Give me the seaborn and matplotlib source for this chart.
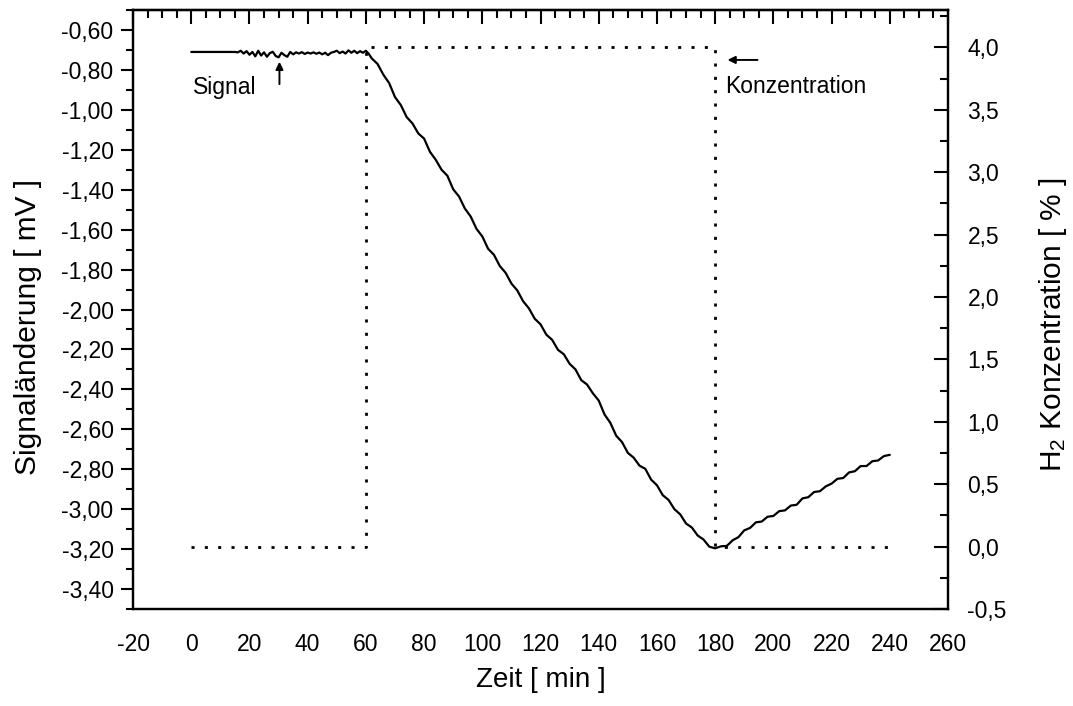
import numpy as np
import pandas as pd
import matplotlib
matplotlib.use('Agg')
import matplotlib.pyplot as plt
from matplotlib.ticker import MultipleLocator, FuncFormatter
import seaborn as sns

# signal readings [mV] vs time [min]
zeit_flat = [0, 5, 10, 15]
signal_flat = [-0.710, -0.710, -0.710, -0.710]

zeit_noise = list(range(16, 63))
signal_noise = [-0.712, -0.704, -0.718, -0.706, -0.724, -0.710, -0.732, -0.704, -0.728,
                -0.712, -0.734, -0.716, -0.709, -0.730, -0.737, -0.714, -0.726, -0.734,
                -0.710, -0.722, -0.712, -0.718, -0.711, -0.720, -0.713, -0.718, -0.712,
                -0.719, -0.713, -0.722, -0.714, -0.726, -0.714, -0.710, -0.704, -0.716,
                -0.708, -0.718, -0.702, -0.714, -0.704, -0.716, -0.706, -0.714, -0.704,
                -0.720, -0.742]

zeit_slope = list(range(64, 241, 2))
signal_slope = [-0.770, -0.824, -0.866, -0.936, -0.976, -1.036, -1.068, -1.118, -1.144,
                -1.210, -1.250, -1.300, -1.330, -1.398, -1.434, -1.494, -1.534, -1.596,
                -1.634, -1.696, -1.726, -1.782, -1.816, -1.870, -1.904, -1.958, -1.994,
                -2.046, -2.074, -2.126, -2.152, -2.202, -2.224, -2.272, -2.300, -2.354,
                -2.376, -2.420, -2.456, -2.526, -2.568, -2.632, -2.664, -2.718, -2.742,
                -2.782, -2.798, -2.852, -2.880, -2.930, -2.954, -3.000, -3.026, -3.072,
                -3.092, -3.132, -3.152, -3.188, -3.196, -3.186, -3.184, -3.156, -3.140,
                -3.106, -3.094, -3.066, -3.062, -3.038, -3.034, -3.010, -3.006, -2.982,
                -2.978, -2.946, -2.940, -2.914, -2.910, -2.886, -2.872, -2.848, -2.844,
                -2.816, -2.810, -2.784, -2.784, -2.760, -2.756, -2.734, -2.728]

# H2 concentration [%]
zeit_konz = [0, 60, 60, 180, 180, 240]
konz = [0, 0, 4, 4, 0, 0]

if __name__ == '__main__':
    sns.set_style('white')
    plt.rcParams['font.family'] = ['Liberation Sans', 'DejaVu Sans']
    plt.rcParams['mathtext.fontset'] = 'custom'
    plt.rcParams['mathtext.rm'] = 'Liberation Sans'
    plt.rcParams['mathtext.it'] = 'Liberation Sans'
    plt.rcParams['text.color'] = 'black'
    plt.rcParams['axes.labelcolor'] = 'black'
    plt.rcParams['xtick.color'] = 'black'
    plt.rcParams['ytick.color'] = 'black'

    sig = pd.DataFrame({'Zeit': zeit_flat + zeit_noise + zeit_slope,
                        'Signal': signal_flat + signal_noise + signal_slope})
    kz = pd.DataFrame({'Zeit': zeit_konz, 'Konz': konz})

    fig = plt.figure(figsize=(10.73, 7.06), dpi=100)
    ax = fig.add_axes([0.124, 0.1374, 0.7595, 0.8484])
    ax2 = ax.twinx()

    sns.lineplot(data=sig, x='Zeit', y='Signal', ax=ax, color='black', lw=1.6,
                 estimator=None, sort=False)
    sns.lineplot(data=kz, x='Zeit', y='Konz', ax=ax2, color='black', lw=2.0,
                 estimator=None, sort=False, linestyle=(0, (1.1, 3.7)))

    ax.set_xlim(-20, 260)
    ax.set_ylim(-3.5, -0.5)
    ax2.set_ylim(-0.5, 4.3)

    ax.set_xlabel('Zeit [ min ]', fontsize=20, labelpad=8)
    ax.set_ylabel('Signaländerung [ mV ]', fontsize=21.5, labelpad=14)
    ax2.set_ylabel(r'H$_\mathregular{2}$ Konzentration [ % ]', fontsize=21.5, labelpad=22)
    ax.yaxis.label.set_y(0.47)
    ax2.yaxis.label.set_y(0.475)

    ax.xaxis.set_major_locator(MultipleLocator(20))
    ax.xaxis.set_minor_locator(MultipleLocator(5))
    ax.yaxis.set_minor_locator(MultipleLocator(0.1))
    ax.set_yticks(np.arange(-3.4, -0.59, 0.2))
    ax2.yaxis.set_major_locator(MultipleLocator(0.5))
    ax2.yaxis.set_minor_locator(MultipleLocator(0.25))

    ax.xaxis.set_major_formatter(FuncFormatter(lambda v, p: f'{v:.0f}'))
    ax.yaxis.set_major_formatter(FuncFormatter(lambda v, p: f'{v:.2f}'.replace('.', ',')))
    ax2.yaxis.set_major_formatter(FuncFormatter(lambda v, p: f'{v:.1f}'.replace('.', ',')))

    ax.tick_params(axis='x', which='both', direction='out', top=False, labelsize=16.5, width=1.5, pad=6)
    ax.tick_params(axis='x', which='major', length=11)
    ax.tick_params(axis='x', which='minor', length=7)
    ax.tick_params(axis='y', which='both', direction='out', labelsize=16.5, width=1.5, pad=5)
    ax.tick_params(axis='y', which='major', length=9)
    ax.tick_params(axis='y', which='minor', length=5)
    ax2.tick_params(axis='y', which='both', direction='in', labelsize=16.5, width=1.5, pad=14)
    ax2.tick_params(axis='y', which='major', length=10)
    ax2.tick_params(axis='y', which='minor', length=6)

    for a in (ax, ax2):
        for s in a.spines.values():
            s.set_linewidth(1.6)
            s.set_color('black')

    # top axis ticks point inwards
    sec = ax.secondary_xaxis('top')
    sec.xaxis.set_major_locator(MultipleLocator(20))
    sec.xaxis.set_minor_locator(MultipleLocator(5))
    sec.tick_params(which='both', direction='in', labeltop=False, width=1.5)
    sec.tick_params(which='major', length=10)
    sec.tick_params(which='minor', length=6)
    sec.spines['top'].set_linewidth(1.6)

    ax.annotate('', xy=(30.3, -0.745), xytext=(30.3, -0.885),
                arrowprops=dict(arrowstyle='-|>', color='black', lw=1.4, mutation_scale=11))
    ax.text(0.5, -0.89, 'Signal', fontsize=16.5, va='center', ha='left')
    ax.annotate('', xy=(183.3, -0.750), xytext=(195.5, -0.750),
                arrowprops=dict(arrowstyle='-|>', color='black', lw=1.4, mutation_scale=11))
    ax.text(183.5, -0.885, 'Konzentration', fontsize=16.5, va='center', ha='left')

    fig.savefig('out.png', dpi=100)
